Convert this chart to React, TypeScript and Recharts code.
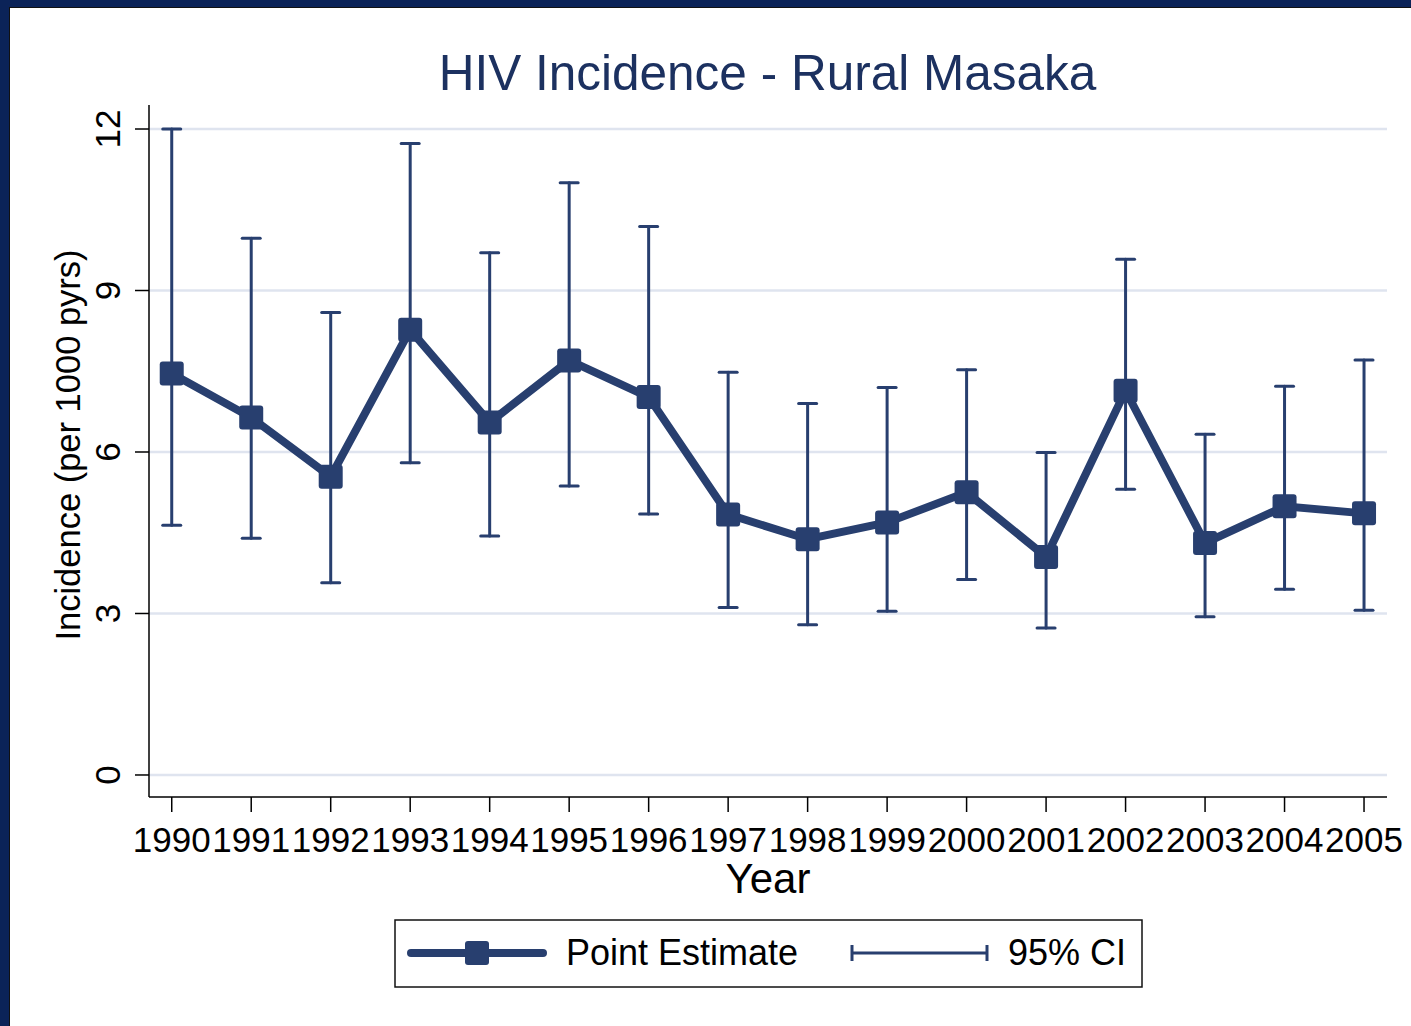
import React from "react";
import {
  ComposedChart,
  Line,
  ErrorBar,
  XAxis,
  YAxis,
  CartesianGrid,
} from "recharts";

const years = [
  1990, 1991, 1992, 1993, 1994, 1995, 1996, 1997, 1998, 1999, 2000, 2001,
  2002, 2003, 2004, 2005,
];
const pointEstimate = [
  7.46, 6.64, 5.54, 8.27, 6.55, 7.7, 7.02, 4.84, 4.38, 4.69, 5.25, 4.05,
  7.14, 4.31, 4.99, 4.86,
];
const ciLower = [
  4.64, 4.4, 3.57, 5.8, 4.44, 5.37, 4.85, 3.11, 2.79, 3.04, 3.63, 2.73,
  5.31, 2.94, 3.45, 3.06,
];
const ciUpper = [
  12.0, 9.97, 8.59, 11.73, 9.7, 11.0, 10.19, 7.48, 6.9, 7.2, 7.53, 5.99,
  9.58, 6.33, 7.22, 7.71,
];
const yTicks = [0, 3, 6, 9, 12];
const legendLabels = ["Point Estimate", "95% CI"];

const NAVY = "#283f6f";
const FONT = "'Liberation Sans', Arial, Helvetica, sans-serif";

// ErrorBar wants offsets from the value: [below, above]
const data = years.map((year, i) => ({
  year,
  est: pointEstimate[i],
  ci: [pointEstimate[i] - ciLower[i], ciUpper[i] - pointEstimate[i]],
}));

const SquareDot = (props: any) => {
  const { cx, cy, index } = props;
  if (cx == null || cy == null) return null;
  return (
    <rect
      key={`dot-${index}`}
      x={cx - 12}
      y={cy - 12}
      width={24}
      height={24}
      rx={3}
      fill={NAVY}
    />
  );
};

const RotatedTick = (props: any) => {
  const { x, y, payload } = props;
  return (
    <text
      x={x}
      y={y}
      transform={`rotate(-90 ${x} ${y})`}
      textAnchor="middle"
      fontSize={35}
      fontFamily={FONT}
      fill="#000"
    >
      {payload.value}
    </text>
  );
};

export default function App() {
  return (
    <div
      style={{
        position: "absolute",
        left: 0,
        top: 0,
        width: 1411,
        height: 1026,
        background: "#0b2358",
        overflow: "hidden",
      }}
    >
      <div
        style={{
          position: "absolute",
          left: 9,
          top: 7,
          width: 1402,
          height: 1019,
          background: "#fff",
          borderLeft: "1px solid #111",
          borderTop: "1px solid #111",
          boxSizing: "border-box",
        }}
      />
      <div style={{ position: "absolute", left: 0, top: 0 }}>
        <ComposedChart
          width={1411}
          height={1026}
          data={data}
          margin={{ top: 105, right: 24, bottom: 189, left: 0 }}
        >
          <CartesianGrid
            vertical={false}
            horizontalValues={yTicks}
            stroke="#dfe4ef"
            strokeWidth={2.5}
          />
          <XAxis
            dataKey="year"
            type="number"
            domain={[1989.714, 2005.289]}
            ticks={years}
            interval={0}
            allowDataOverflow
            height={40}
            stroke="#000"
            strokeWidth={1.5}
            tickSize={15}
            tickMargin={15}
            tick={{ fontSize: 35, fill: "#000", fontFamily: FONT }}
          />
          <YAxis
            type="number"
            domain={[-0.409, 12.446]}
            ticks={yTicks}
            allowDataOverflow
            width={149}
            stroke="#000"
            strokeWidth={1.5}
            tickSize={14}
            tickMargin={15}
            tick={<RotatedTick />}
          />
          <Line
            type="linear"
            dataKey="est"
            stroke={NAVY}
            strokeWidth={8}
            dot={<SquareDot />}
            activeDot={false}
            isAnimationActive={false}
          >
            <ErrorBar
              dataKey="ci"
              width={9}
              stroke={NAVY}
              strokeWidth={3}
              strokeLinecap="round"
              isAnimationActive={false}
            />
          </Line>
        </ComposedChart>
      </div>
      <svg
        width={1411}
        height={1026}
        style={{ position: "absolute", left: 0, top: 0, pointerEvents: "none" }}
        fontFamily={FONT}
      >
        <text x={767.5} y={90} textAnchor="middle" fontSize={49.5} fill="#1c3160">
          HIV Incidence - Rural Masaka
        </text>
        <text x={768} y={893} textAnchor="middle" fontSize={42} fill="#000">
          Year
        </text>
        <text
          x={80}
          y={445}
          transform="rotate(-90 80 445)"
          textAnchor="middle"
          fontSize={34.5}
          fill="#000"
        >
          Incidence (per 1000 pyrs)
        </text>

        {/* legend */}
        <rect x={395} y={920} width={747} height={67} fill="#fff" stroke="#111" strokeWidth={1.5} />
        <line x1={411} y1={953} x2={543} y2={953} stroke={NAVY} strokeWidth={8} strokeLinecap="round" />
        <rect x={465} y={941} width={24} height={24} rx={3} fill={NAVY} />
        <text x={566} y={965} fontSize={36} fill="#000">
          {legendLabels[0]}
        </text>
        <line x1={852} y1={953} x2={987} y2={953} stroke={NAVY} strokeWidth={3} />
        <line x1={852} y1={945} x2={852} y2={961} stroke={NAVY} strokeWidth={3} />
        <line x1={987} y1={945} x2={987} y2={961} stroke={NAVY} strokeWidth={3} />
        <text x={1008} y={965} fontSize={36} fill="#000">
          {legendLabels[1]}
        </text>
      </svg>
    </div>
  );
}
